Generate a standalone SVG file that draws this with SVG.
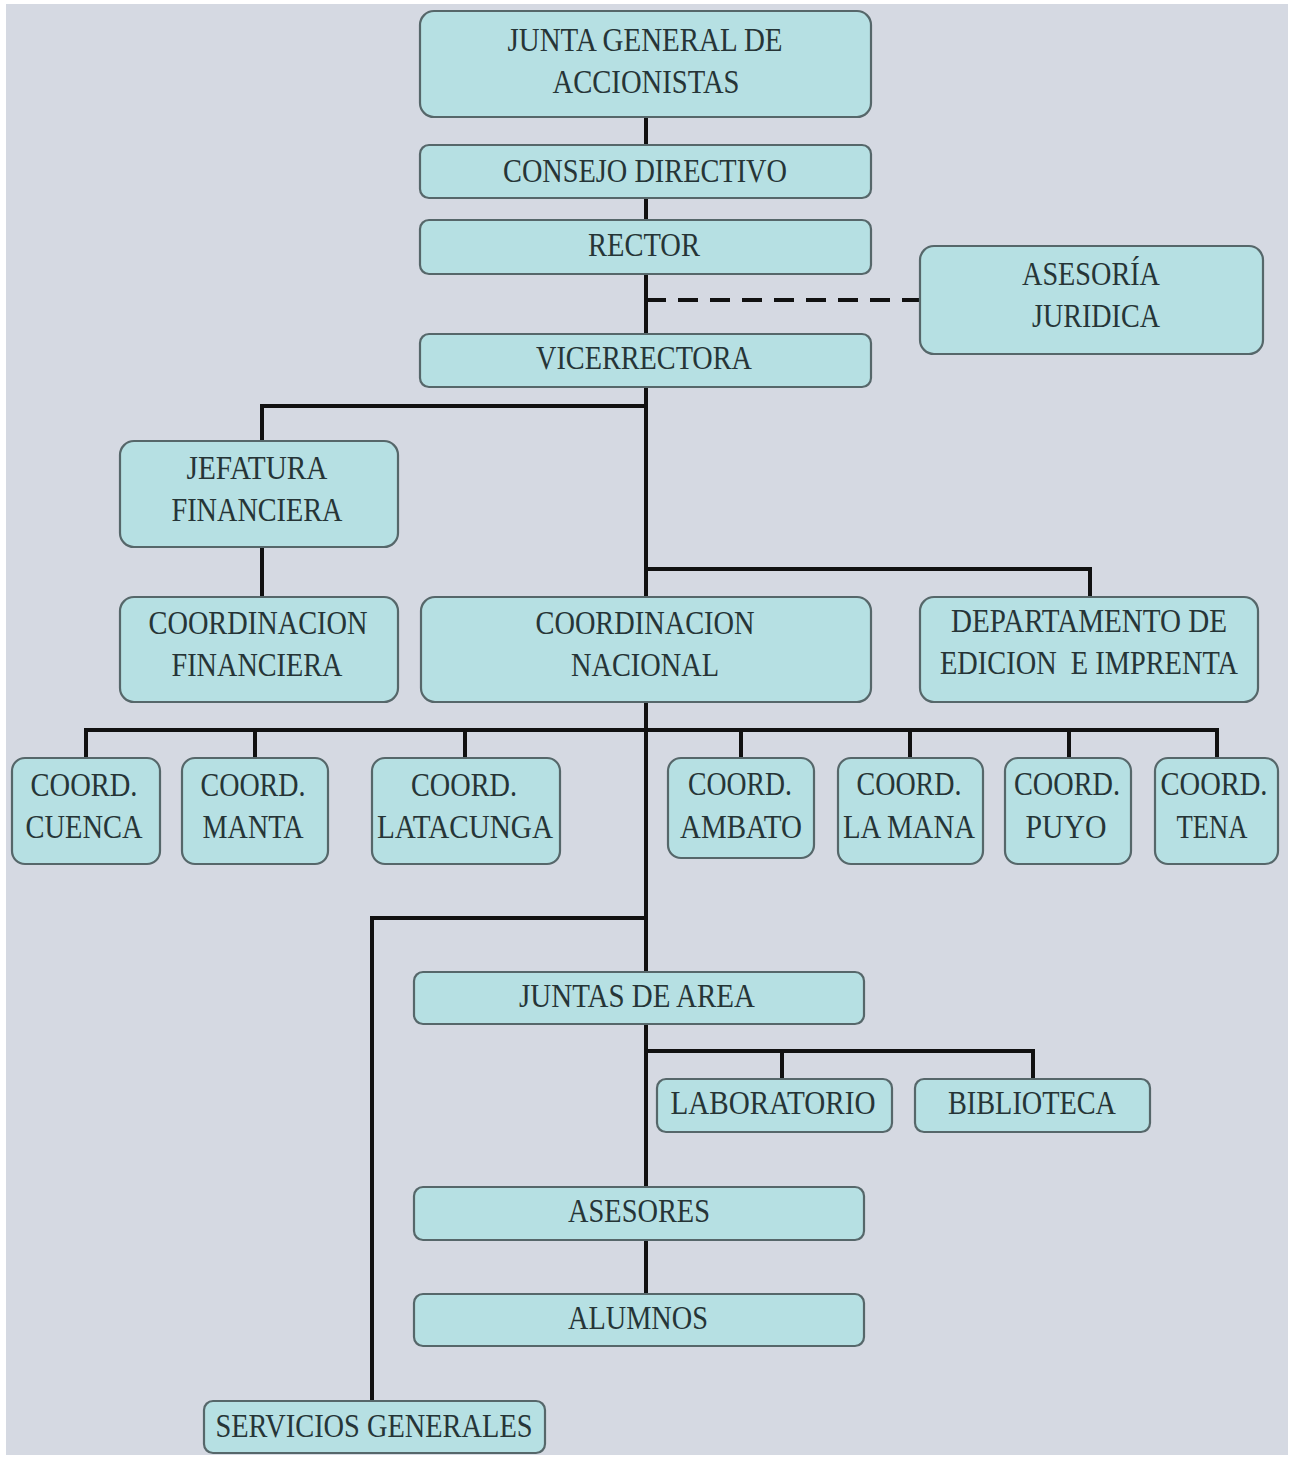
<svg xmlns="http://www.w3.org/2000/svg" width="1293" height="1459" viewBox="0 0 1293 1459">
<style>
.n rect{fill:#b6e0e3;stroke:#56676a;stroke-width:2.2}
.n text{font-family:"Liberation Serif","Times New Roman",serif;font-size:33px;fill:#263537;text-anchor:middle;white-space:pre}
.c line,.c polyline{stroke:#111;stroke-width:4;fill:none}
.c .d{stroke-dasharray:20 12}
</style>
<rect x="0" y="0" width="1293" height="1459" fill="#ffffff"/>
<rect x="6" y="4" width="1282" height="1451" fill="#d5d9e2"/>
<g class="c" id="connectors">
<line x1="646" y1="117" x2="646" y2="145"/>
<line x1="646" y1="198" x2="646" y2="220"/>
<line x1="646" y1="274" x2="646" y2="334"/>
<line class="d" x1="646" y1="300" x2="920" y2="300"/>
<line x1="646" y1="387" x2="646" y2="597"/>
<polyline points="646,406 262,406 262,441"/>
<line x1="262" y1="547" x2="262" y2="597"/>
<polyline points="646,569 1090,569 1090,597"/>
<line x1="646" y1="702" x2="646" y2="972"/>
<line x1="86" y1="730" x2="1217" y2="730"/>
<line x1="86" y1="728" x2="86" y2="758"/>
<line x1="255" y1="730" x2="255" y2="758"/>
<line x1="465" y1="730" x2="465" y2="758"/>
<line x1="741" y1="730" x2="741" y2="758"/>
<line x1="910" y1="730" x2="910" y2="758"/>
<line x1="1069" y1="730" x2="1069" y2="758"/>
<line x1="1217" y1="728" x2="1217" y2="758"/>
<polyline points="646,918 372,918 372,1401"/>
<line x1="646" y1="1024" x2="646" y2="1187"/>
<polyline points="646,1051 1033,1051 1033,1079"/>
<line x1="782" y1="1051" x2="782" y2="1079"/>
<line x1="646" y1="1240" x2="646" y2="1294"/>
</g>
<g class="n" id="junta"><rect x="420" y="11" width="451" height="106" rx="14"/><text x="645" y="51" textLength="275" lengthAdjust="spacingAndGlyphs">JUNTA GENERAL DE</text><text x="646" y="93" textLength="187" lengthAdjust="spacingAndGlyphs">ACCIONISTAS</text></g>
<g class="n" id="consejo"><rect x="420" y="145" width="451" height="53" rx="9"/><text x="645" y="182" textLength="284" lengthAdjust="spacingAndGlyphs">CONSEJO DIRECTIVO</text></g>
<g class="n" id="rector"><rect x="420" y="220" width="451" height="54" rx="9"/><text x="644" y="256" textLength="112" lengthAdjust="spacingAndGlyphs">RECTOR</text></g>
<g class="n" id="asesoria"><rect x="920" y="246" width="343" height="108" rx="14"/><text x="1091" y="285" textLength="138" lengthAdjust="spacingAndGlyphs">ASESORÍA</text><text x="1096" y="327" textLength="128" lengthAdjust="spacingAndGlyphs">JURIDICA</text></g>
<g class="n" id="vicerrectora"><rect x="420" y="334" width="451" height="53" rx="9"/><text x="644" y="369" textLength="216" lengthAdjust="spacingAndGlyphs">VICERRECTORA</text></g>
<g class="n" id="jefatura"><rect x="120" y="441" width="278" height="106" rx="14"/><text x="257" y="479" textLength="141" lengthAdjust="spacingAndGlyphs">JEFATURA</text><text x="257" y="521" textLength="171" lengthAdjust="spacingAndGlyphs">FINANCIERA</text></g>
<g class="n" id="coordfin"><rect x="120" y="597" width="278" height="105" rx="14"/><text x="258" y="634" textLength="219" lengthAdjust="spacingAndGlyphs">COORDINACION</text><text x="257" y="676" textLength="171" lengthAdjust="spacingAndGlyphs">FINANCIERA</text></g>
<g class="n" id="coordnac"><rect x="421" y="597" width="450" height="105" rx="14"/><text x="645" y="634" textLength="219" lengthAdjust="spacingAndGlyphs">COORDINACION</text><text x="645" y="676" textLength="148" lengthAdjust="spacingAndGlyphs">NACIONAL</text></g>
<g class="n" id="departamento"><rect x="920" y="597" width="338" height="105" rx="14"/><text x="1089" y="632" textLength="276" lengthAdjust="spacingAndGlyphs">DEPARTAMENTO DE</text><text x="1089" y="674" textLength="298" lengthAdjust="spacingAndGlyphs">EDICION  E IMPRENTA</text></g>
<g class="n" id="cuenca"><rect x="12" y="758" width="148" height="106" rx="13"/><text x="84" y="796" textLength="107" lengthAdjust="spacingAndGlyphs">COORD.</text><text x="84" y="838" textLength="117" lengthAdjust="spacingAndGlyphs">CUENCA</text></g>
<g class="n" id="manta"><rect x="182" y="758" width="146" height="106" rx="13"/><text x="253" y="796" textLength="105" lengthAdjust="spacingAndGlyphs">COORD.</text><text x="253" y="838" textLength="101" lengthAdjust="spacingAndGlyphs">MANTA</text></g>
<g class="n" id="latacunga"><rect x="372" y="758" width="188" height="106" rx="13"/><text x="464" y="796" textLength="106" lengthAdjust="spacingAndGlyphs">COORD.</text><text x="465" y="838" textLength="176" lengthAdjust="spacingAndGlyphs">LATACUNGA</text></g>
<g class="n" id="ambato"><rect x="668" y="758" width="146" height="100" rx="13"/><text x="740" y="795" textLength="104" lengthAdjust="spacingAndGlyphs">COORD.</text><text x="741" y="838" textLength="122" lengthAdjust="spacingAndGlyphs">AMBATO</text></g>
<g class="n" id="lamana"><rect x="838" y="758" width="145" height="106" rx="13"/><text x="909" y="795" textLength="105" lengthAdjust="spacingAndGlyphs">COORD.</text><text x="909" y="838" textLength="132" lengthAdjust="spacingAndGlyphs">LA MANA</text></g>
<g class="n" id="puyo"><rect x="1005" y="758" width="126" height="106" rx="13"/><text x="1067" y="795" textLength="106" lengthAdjust="spacingAndGlyphs">COORD.</text><text x="1066" y="838" textLength="81" lengthAdjust="spacingAndGlyphs">PUYO</text></g>
<g class="n" id="tena"><rect x="1155" y="758" width="123" height="106" rx="13"/><text x="1214" y="795" textLength="107" lengthAdjust="spacingAndGlyphs">COORD.</text><text x="1212" y="838" textLength="71" lengthAdjust="spacingAndGlyphs">TENA</text></g>
<g class="n" id="juntasarea"><rect x="414" y="972" width="450" height="52" rx="9"/><text x="637" y="1007" textLength="236" lengthAdjust="spacingAndGlyphs">JUNTAS DE AREA</text></g>
<g class="n" id="laboratorio"><rect x="657" y="1079" width="235" height="53" rx="9"/><text x="773" y="1114" textLength="205" lengthAdjust="spacingAndGlyphs">LABORATORIO</text></g>
<g class="n" id="biblioteca"><rect x="915" y="1079" width="235" height="53" rx="9"/><text x="1032" y="1114" textLength="168" lengthAdjust="spacingAndGlyphs">BIBLIOTECA</text></g>
<g class="n" id="asesores"><rect x="414" y="1187" width="450" height="53" rx="9"/><text x="639" y="1222" textLength="142" lengthAdjust="spacingAndGlyphs">ASESORES</text></g>
<g class="n" id="alumnos"><rect x="414" y="1294" width="450" height="52" rx="9"/><text x="638" y="1329" textLength="140" lengthAdjust="spacingAndGlyphs">ALUMNOS</text></g>
<g class="n" id="servicios"><rect x="204" y="1401" width="341" height="52" rx="9"/><text x="374" y="1437" textLength="317" lengthAdjust="spacingAndGlyphs">SERVICIOS GENERALES</text></g>
</svg>
